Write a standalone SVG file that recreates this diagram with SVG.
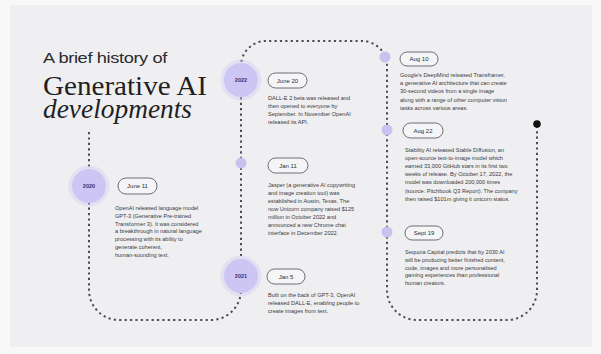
<svg xmlns="http://www.w3.org/2000/svg" width="601" height="354" viewBox="0 0 601 354">
  <style>
    .title { font-family: "Liberation Sans", Arial, sans-serif; font-size: 14.5px; fill: #2a2a2e; letter-spacing: -0.3px; }
    .serif { font-family: "Liberation Serif", "Times New Roman", serif; font-size: 28px; fill: #1f1f24; }
    .ital { font-style: italic; }
    .path { fill: none; stroke: #4d4d55; stroke-width: 2; stroke-dasharray: 2.2 3.2; }
    .year { fill: #cdc6f4; }
    .halo { fill: #cdc6f4; opacity: 0.35; }
    .yr { font-family: "Liberation Sans", Arial, sans-serif; font-size: 5.6px; font-weight: bold; fill: #34347a; text-anchor: middle; }
    .dot { fill: #c9c2ef; }
    .pill { fill: #f5f5f7; stroke: #5e5e66; stroke-width: 0.9; }
    .pl { font-family: "Liberation Sans", Arial, sans-serif; font-size: 6px; fill: #2c2c30; text-anchor: middle; }
    .body { font-family: "Liberation Sans", Arial, sans-serif; font-size: 5.6px; fill: #3a3a40; }
  </style>

  <!-- page and panel -->
  <rect x="0" y="0" width="601" height="354" fill="#f8f8f9"/>
  <rect x="10" y="5" width="582" height="342" fill="#efeff1"/>

  <!-- heading -->
  <g id="heading">
    <text class="title" x="43" y="63" textLength="124" lengthAdjust="spacingAndGlyphs">A brief history of</text>
    <text class="serif" x="43" y="95" textLength="164" lengthAdjust="spacingAndGlyphs">Generative AI</text>
    <text class="serif ital" x="43" y="118" textLength="149" lengthAdjust="spacingAndGlyphs">developments</text>
  </g>

  <!-- timeline connector -->
  <g id="connectors">
    <path class="path" d="M89 132 V290 A30 30 0 0 0 119 320 H211 A30 30 0 0 0 241 290 V66 A25 25 0 0 1 266 41 H362 A25 25 0 0 1 387 66 V290 A30 30 0 0 0 417 320 H507 A30 30 0 0 0 537 290 V124"/>
    <circle cx="537" cy="124" r="3.8" fill="#111"/>
  </g>

  <!-- 2020 -->
  <g id="y2020">
    <circle class="halo" cx="89" cy="186" r="20.5"/>
    <circle class="year" cx="89" cy="186" r="17"/>
    <text class="yr" x="89" y="188">2020</text>
  </g>
  <g id="jun11-2020">
    <rect class="pill" x="118" y="178" width="39" height="16" rx="8"/>
    <text class="pl" x="137.5" y="188.2">June 11</text>
    <text class="body" x="115" y="210">
      <tspan x="115" dy="0">OpenAI released language model</tspan>
      <tspan x="115" dy="7.8">GPT-3 (Generative Pre-trained</tspan>
      <tspan x="115" dy="7.8">Transformer 3). It was considered</tspan>
      <tspan x="115" dy="7.8">a breakthrough in natural language</tspan>
      <tspan x="115" dy="7.8">processing with its ability to</tspan>
      <tspan x="115" dy="7.8">generate coherent,</tspan>
      <tspan x="115" dy="7.8">human-sounding text.</tspan>
    </text>
  </g>

  <!-- 2021 -->
  <g id="y2021">
    <circle class="halo" cx="241" cy="276" r="20.5"/>
    <circle class="year" cx="241" cy="276" r="17"/>
    <text class="yr" x="241" y="278">2021</text>
  </g>
  <g id="jan5-2021">
    <rect class="pill" x="267" y="269" width="38" height="15" rx="7.5"/>
    <text class="pl" x="286" y="278.6">Jan 5</text>
    <text class="body" x="268" y="297">
      <tspan x="268" dy="0">Built on the back of GPT-3, OpenAI</tspan>
      <tspan x="268" dy="8">released DALL-E, enabling people to</tspan>
      <tspan x="268" dy="8">create images from text.</tspan>
    </text>
  </g>

  <!-- 2022 -->
  <g id="jan11-2022">
    <circle class="dot" cx="241" cy="163" r="5.5"/>
    <rect class="pill" x="268" y="158" width="40" height="15" rx="7.5"/>
    <text class="pl" x="288" y="167.6">Jan 11</text>
    <text class="body" x="268" y="187">
      <tspan x="268" dy="0">Jasper (a generative AI copywriting</tspan>
      <tspan x="268" dy="8">and image creation tool) was</tspan>
      <tspan x="268" dy="8">established in Austin, Texas. The</tspan>
      <tspan x="268" dy="8">now Unicorn company raised $125</tspan>
      <tspan x="268" dy="8">million in October 2022 and</tspan>
      <tspan x="268" dy="8">announced a new Chrome chat</tspan>
      <tspan x="268" dy="8">interface in December 2022.</tspan>
    </text>
  </g>
  <g id="y2022">
    <circle class="halo" cx="241" cy="80" r="20.5"/>
    <circle class="year" cx="241" cy="80" r="17"/>
    <text class="yr" x="241" y="82">2022</text>
  </g>
  <g id="jun20-2022">
    <rect class="pill" x="268" y="73" width="39" height="15" rx="7.5"/>
    <text class="pl" x="287.5" y="82.6">June 20</text>
    <text class="body" x="268" y="100">
      <tspan x="268" dy="0">DALL-E 2 beta was released and</tspan>
      <tspan x="268" dy="8">then opened to everyone by</tspan>
      <tspan x="268" dy="8">September. In November OpenAI</tspan>
      <tspan x="268" dy="8">released its API.</tspan>
    </text>
  </g>
  <g id="aug10-2022">
    <circle class="dot" cx="385" cy="57" r="5.5"/>
    <rect class="pill" x="400" y="52" width="38" height="14" rx="7"/>
    <text class="pl" x="419" y="61.2">Aug 10</text>
    <text class="body" x="400" y="77">
      <tspan x="400" dy="0">Google's DeepMind released Transframer,</tspan>
      <tspan x="400" dy="8.2">a generative AI architecture that can create</tspan>
      <tspan x="400" dy="8.2">30-second videos from a single image</tspan>
      <tspan x="400" dy="8.2">along with a range of other computer vision</tspan>
      <tspan x="400" dy="8.2">tasks across various areas.</tspan>
    </text>
  </g>
  <g id="aug22-2022">
    <circle class="dot" cx="387" cy="130" r="5.5"/>
    <rect class="pill" x="403" y="123" width="40" height="15" rx="7.5"/>
    <text class="pl" x="423" y="132.6">Aug 22</text>
    <text class="body" x="405" y="152">
      <tspan x="405" dy="0">Stability AI released Stable Diffusion, an</tspan>
      <tspan x="405" dy="8.1">open-source text-to-image model which</tspan>
      <tspan x="405" dy="8.1">earned 33,000 GitHub stars in its first two</tspan>
      <tspan x="405" dy="8.1">weeks of release. By October 17, 2022, the</tspan>
      <tspan x="405" dy="8.1">model was downloaded 200,000 times</tspan>
      <tspan x="405" dy="8.1">(source: Pitchbook Q3 Report). The company</tspan>
      <tspan x="405" dy="8.1">then raised $101m giving it unicorn status.</tspan>
    </text>
  </g>
  <g id="sep19-2022">
    <circle class="dot" cx="387" cy="232" r="5.5"/>
    <rect class="pill" x="405" y="226" width="38" height="14" rx="7"/>
    <text class="pl" x="424" y="235.2">Sept 19</text>
    <text class="body" x="405" y="254">
      <tspan x="405" dy="0">Sequoia Capital predicts that by 2030 AI</tspan>
      <tspan x="405" dy="7.8">will be producing better finished content,</tspan>
      <tspan x="405" dy="7.8">code, images and more personalised</tspan>
      <tspan x="405" dy="7.8">gaming experiences than professional</tspan>
      <tspan x="405" dy="7.8">human creators.</tspan>
    </text>
  </g>
</svg>
